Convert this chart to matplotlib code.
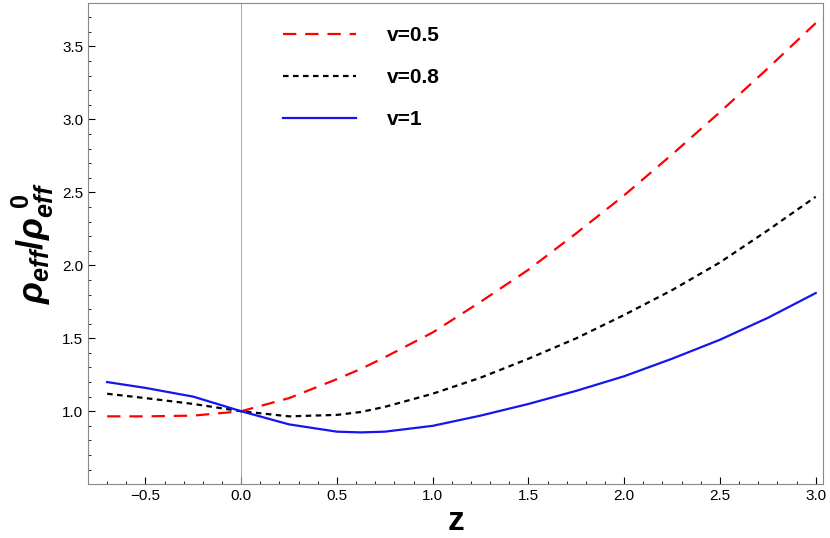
import matplotlib
matplotlib.use("Agg")
import matplotlib.pyplot as plt

plt.rcParams["font.family"] = "Liberation Sans"
plt.rcParams["mathtext.fontset"] = "custom"
plt.rcParams["mathtext.it"] = "Liberation Sans:italic:bold"
plt.rcParams["mathtext.rm"] = "Liberation Sans:bold"

z = [-0.7, -0.5, -0.25, 0.0, 0.25, 0.5, 0.625, 0.75, 1.0, 1.25, 1.5, 1.75, 2.0, 2.25, 2.5, 2.75, 3.0]
rho_v05 = [0.965, 0.965, 0.97, 1.0, 1.09, 1.22, 1.29, 1.37, 1.54, 1.75, 1.97, 2.22, 2.48, 2.76, 3.05, 3.35, 3.66]
rho_v08 = [1.12, 1.09, 1.05, 1.0, 0.965, 0.975, 0.995, 1.03, 1.12, 1.23, 1.36, 1.50, 1.66, 1.83, 2.02, 2.24, 2.47]
rho_v1 = [1.2, 1.16, 1.10, 1.0, 0.91, 0.86, 0.855, 0.86, 0.9, 0.97, 1.05, 1.14, 1.24, 1.36, 1.49, 1.64, 1.81]

fig = plt.figure(figsize=(8.3, 5.38), dpi=100)
ax = fig.add_axes([0.106, 0.1, 0.886, 0.895])
ax.axvline(0, color="#999999", lw=0.6)
ax.plot(z, rho_v05, color="red", ls=(0, (6, 4)), lw=1.6, label="v=0.5")
ax.plot(z, rho_v08, color="black", ls=(0, (2.5, 2)), lw=1.6, label="v=0.8")
ax.plot(z, rho_v1, color="#1515ee", lw=1.6, label="v=1")

ax.set_xlim(-0.8, 3.04)
ax.set_ylim(0.5, 3.8)
ax.set_xticks([-0.5, 0.0, 0.5, 1.0, 1.5, 2.0, 2.5, 3.0])
ax.set_yticks([1.0, 1.5, 2.0, 2.5, 3.0, 3.5])
ax.set_xticks([x / 10 for x in range(-7, 31)], minor=True)
ax.set_yticks([y / 10 for y in range(6, 38)], minor=True)
ax.tick_params(labelsize=11, direction="in", length=5)
ax.tick_params(which="minor", direction="in", length=2.5)
for s in ax.spines.values():
    s.set_color("#888888")

ax.set_xlabel("z", fontsize=24, fontweight="bold", labelpad=2)
ax.set_ylabel(r"$\rho_{eff}/\rho_{eff}^{\ 0}$", fontsize=26)
ax.legend(loc="upper left", bbox_to_anchor=(0.24, 0.99), frameon=False,
          prop={"size": 15, "weight": "bold"}, handlelength=3.5, handletextpad=1.5,
          labelspacing=1.1)

fig.savefig("out.png")
